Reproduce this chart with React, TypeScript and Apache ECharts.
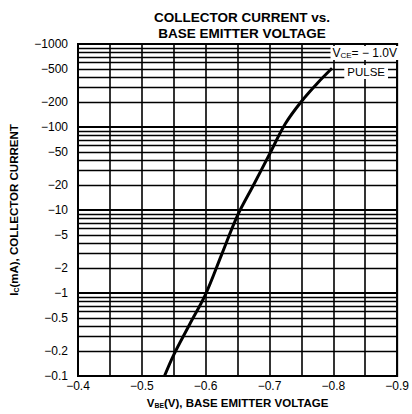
import React, { useEffect, useRef } from "react";
import * as echarts from "echarts";

const vbe = [-0.5355, -0.55, -0.575, -0.6, -0.625, -0.65, -0.675, -0.7, -0.725, -0.75, -0.775, -0.798];
const ic = [0.1, 0.18, 0.42, 0.97, 2.9, 8.6, 20, 47, 110, 203, 337, 510];
const yTickLabels = [1000, 500, 200, 100, 50, 20, 10, 5, 2, 1, 0.5, 0.2, 0.1];
const decades = [0.1, 1, 10, 100];
const mantissas = [1, 2, 3, 4, 5, 6, 7, 8, 9];
const yTop = 1000;

const FONT = "'Liberation Sans', Arial, sans-serif";

function fmtY(v: number) {
  return "\u2212" + String(v);
}

export default function App() {
  const ref = useRef<HTMLDivElement>(null);
  useEffect(() => {
    if (!ref.current) return;
    const chart = echarts.init(ref.current, null, { renderer: "svg" });
    const gridVals: number[] = [];
    decades.forEach((d) => mantissas.forEach((m) => gridVals.push(+(d * m).toPrecision(3))));
    gridVals.push(yTop);
    const markData = gridVals.map((v) => {
      const labeled = yTickLabels.includes(v);
      const isDecade = decades.includes(v) || v === yTop;
      return {
        yAxis: v,
        lineStyle: { width: isDecade ? 2 : 1.3, color: "#000", type: "solid" },
        label: {
          show: labeled,
          position: "end",
          distance: 10,
          formatter: () => fmtY(v),
          color: "#000",
          fontSize: 12,
          fontFamily: FONT,
        },
      };
    });
    const boldRich = (size: number) => ({
      v: { fontSize: size, fontWeight: "bold", color: "#000", fontFamily: FONT },
      sub: { fontSize: size * 0.6, fontWeight: "bold", color: "#000", fontFamily: FONT, padding: [4, 0, 0, 0] },
      t: { fontSize: size, fontWeight: "bold", color: "#000", fontFamily: FONT },
    });
    chart.setOption({
      animation: false,
      textStyle: { fontFamily: FONT },
      title: {
        text: "COLLECTOR CURRENT vs.\nBASE EMITTER VOLTAGE",
        left: 237,
        textAlign: "center",
        top: 4,
        textStyle: { fontSize: 13.5, fontWeight: "bold", color: "#000", lineHeight: 16, fontFamily: FONT },
      },
      grid: {
        left: 72,
        right: 9,
        top: 44,
        bottom: 37,
        show: true,
        borderColor: "#000",
        borderWidth: 2,
        backgroundColor: "#fff",
      },
      xAxis: {
        type: "value",
        inverse: true,
        min: -0.9,
        max: -0.4,
        interval: 0.05,
        axisLine: { show: true, lineStyle: { color: "#000", width: 2 } },
        axisTick: { show: false },
        splitLine: { show: true, lineStyle: { color: "#000", width: 1.6 } },
        axisLabel: {
          color: "#000",
          fontSize: 12,
          margin: 4,
          fontFamily: FONT,
          formatter: (v: number) => {
            const t = Math.round(Math.abs(v) * 100);
            if (t % 10 !== 0) return "";
            return "\u2212" + (t / 100).toFixed(1);
          },
        },
        name: "{v|V}{sub|BE}{t|(V), BASE EMITTER VOLTAGE}",
        nameLocation: "middle",
        nameGap: 21,
        nameTextStyle: { rich: boldRich(11.5) },
      },
      yAxis: {
        type: "log",
        logBase: 10,
        min: 0.1,
        max: 1000,
        axisLine: { show: true, lineStyle: { color: "#000", width: 2 } },
        axisTick: { show: false },
        axisLabel: { show: false },
        splitLine: { show: false },
        name: "{v|I}{sub|C}{t|(mA), COLLECTOR CURRENT}",
        nameLocation: "middle",
        nameGap: 58,
        nameRotate: 90,
        nameTextStyle: { rich: boldRich(11.5) },
      },
      series: [
        {
          type: "line",
          data: [],
          silent: true,
          markLine: {
            silent: true,
            symbol: ["none", "none"],
            animation: false,
            data: markData,
          },
        },
        {
          type: "line",
          data: vbe.map((x, i) => [x, ic[i]]),
          showSymbol: false,
          smooth: 0.35,
          lineStyle: { color: "#000", width: 3 },
          z: 5,
        },
      ],
      graphic: [
        {
          type: "text",
          right: 13,
          top: 46,
          z: 10,
          style: {
            text: "{v|V}{sub|CE}{v|= \u2212 1.0V}",
            backgroundColor: "#fff",
            padding: [1, 2, 1, 2],
            rich: {
              v: { fontSize: 12, color: "#000", fontFamily: FONT },
              sub: { fontSize: 8, color: "#000", fontFamily: FONT, padding: [4, 0, 0, 0] },
            },
          },
        },
        {
          type: "text",
          right: 24,
          top: 65,
          z: 10,
          style: {
            text: "PULSE",
            fontSize: 11.5,
            fill: "#000",
            fontFamily: FONT,
            backgroundColor: "#fff",
            padding: [1, 3, 1, 3],
          },
        },
      ],
    });
    return () => chart.dispose();
  }, []);
  return (
    <div
      ref={ref}
      style={{ position: "absolute", left: 0, top: 0, width: 412, height: 414, background: "#fff" }}
    />
  );
}
